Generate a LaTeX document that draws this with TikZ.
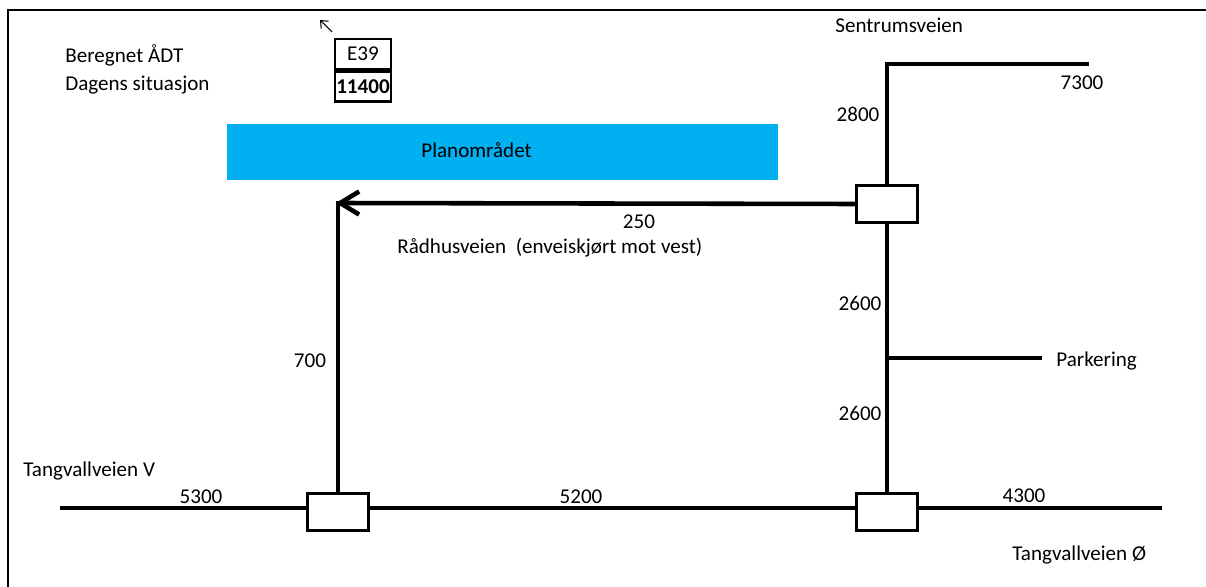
\documentclass[tikz,border=0pt]{standalone}
\usepackage{fontspec}
\setmainfont{Carlito}
\usetikzlibrary{arrows.meta,positioning}
\definecolor{plan}{HTML}{00B0F0}
\def\Rad{Rådhusveien\ \ (enveiskjørt mot vest)}

\begin{document}
\begin{tikzpicture}[% one unit is one pixel of the sketch, y runs downwards
				x=0.02cm,y=-0.02cm,
				every node/.style={
					font=\fontsize{12}{14}\selectfont,
					inner sep=0pt
				},
				road/.style={line width=2.6pt},
				kryss/.style={rectangle,draw,line width=1.7pt,fill=white,
					minimum width=1.22cm,minimum height=0.74cm},
				celle/.style={rectangle,draw,line width=1.6pt,
					minimum width=1.12cm,minimum height=0.6cm},
				tall/.style={anchor=base}
			]
			\useasboundingbox (0,0) rectangle (1206,587);
			% frame
			\draw[line width=1.1pt] (8,587) -- (8,10) -- (1206,10);
			% table
			\node[anchor=base west](T1) at (65,63){Beregnet ÅDT};
			\node[anchor=base west](T2) at (65,91){Dagens situasjon};
			\node[celle](C1) at (363,54){E39};
			\node[celle,below=0pt of C1](C2){\textbf{11400}};
			\coordinate (P1) at (332,32);
			\coordinate (P2) at (320,20);
			\draw[line width=0.6pt,-{Straight Barb[length=3.5pt,width=6pt]}] (P1) -- (P2);
			% plan area
			\node[rectangle,fill=plan,minimum width=11.02cm,minimum height=1.12cm](Plan) at (502.5,152){};
			\node[anchor=base west](PlanT) at (421,158){Planområdet};
			% junctions
			\node[kryss](KrN) at (887,204){};
			\node[kryss](KrV) at (338,512){};
			\node[kryss](KrH) at (887,512){};
			\coordinate (Hj) at (338,203);
			\coordinate (Sv) at (1089,64);
			\coordinate (Pk) at (1042,358);
			\coordinate (TvV) at (60,508);
			\coordinate (TvO) at (1162,508);
			% roads
			\draw[road,-{Straight Barb[length=0.38cm,width=0.46cm]}] (KrN.west) -- ([xshift=-1.3pt]Hj);
			\draw[road] ([yshift=1.3pt]Hj) -- (KrV.north);
			\draw[road] (KrN.north) |- (Sv);
			\draw[road] (KrN.south) -- (KrH.north);
			\draw[road] (Pk) -- (Pk -| KrN.south);
			\draw[road] (TvV) -- (TvV -| KrV.west);
			\draw[road] (TvV -| KrV.east) -- (TvV -| KrH.west);
			\draw[road] (TvV -| KrH.east) -- (TvO);
			% road names
			\node[anchor=base west](N1) at (835,33){Sentrumsveien};
			\node[anchor=base west](N2) at (397,254){\Rad};
			\node[anchor=base west](N3) at (1056,366){Parkering};
			\node[anchor=base west](N4) at (23,476){Tangvallveien V};
			\node[anchor=base west](N5) at (1012,560){Tangvallveien Ø};
			% traffic numbers
			\node[tall](A1) at (1082,90){7300};
			\node[tall](A2) at (858,122){2800};
			\node[tall](A3) at (639,229){250};
			\node[tall](A4) at (860,311){2600};
			\node[tall](A5) at (860,420){2600};
			\node[tall](A6) at (310,367){700};
			\node[tall](A7) at (201,503){5300};
			\node[tall](A8) at (581,503){5200};
			\node[tall](A9) at (1024,502){4300};
		\end{tikzpicture}
\end{document}
